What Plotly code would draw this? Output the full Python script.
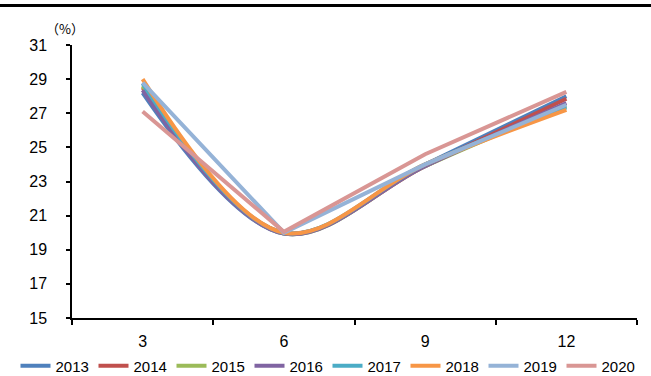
import plotly.graph_objects as go

# Quarter-end months on the category axis
months = ["3", "6", "9", "12"]

# Ratio (%) by quarter for each year
y2013 = [28.2, 19.95, 24.0, 28.0]
y2014 = [28.5, 20.0, 23.9, 27.85]
y2015 = [28.6, 19.95, 23.9, 27.45]
y2016 = [28.35, 19.95, 23.9, 27.6]
y2017 = [28.75, 20.0, 24.0, 27.35]
y2018 = [29.0, 20.0, 24.0, 27.2]
y2019 = [28.8, 20.0, 24.0, 27.5]
y2020 = [27.1, 20.05, 24.6, 28.25]

years = ["2013", "2014", "2015", "2016", "2017", "2018", "2019", "2020"]
series = [y2013, y2014, y2015, y2016, y2017, y2018, y2019, y2020]
colors = ["#4F81BD", "#C0504D", "#9BBB59", "#8064A2",
          "#4BACC6", "#F79646", "#95B3D7", "#D99694"]
shapes = ["spline"] * 6 + ["linear", "linear"]

fig = go.Figure()
for name, vals, col, shp in zip(years, series, colors, shapes):
    fig.add_trace(go.Scatter(
        x=months, y=vals, name=name, mode="lines",
        line=dict(color=col, width=4, shape=shp, smoothing=1.0),
    ))

font_family = "Liberation Sans, Arial, sans-serif"

fig.update_layout(
    width=651, height=376,
    margin=dict(l=72, r=14, t=45, b=58, autoexpand=False),
    paper_bgcolor="white", plot_bgcolor="white",
    font=dict(family=font_family, size=16, color="#000000"),
    showlegend=True,
    legend=dict(
        orientation="h", x=-0.1, xanchor="left", y=-0.176, yanchor="middle",
        font=dict(size=15, family=font_family),
        itemwidth=30, tracegroupgap=0, traceorder="normal",
        entrywidth=33, entrywidthmode="pixels",
    ),
    xaxis=dict(
        type="category", range=[-0.5, 3.5], showgrid=False, zeroline=False,
        showline=True, linecolor="#000000", linewidth=1.5,
        ticks="outside", tickson="boundaries", ticklen=5,
        tickcolor="#000000", tickwidth=1.5,
        tickfont=dict(size=16), ticklabelstandoff=8,
    ),
    yaxis=dict(
        range=[15, 31], dtick=2, tick0=15, showgrid=False, zeroline=False,
        showline=True, linecolor="#000000", linewidth=1.5,
        ticks="outside", ticklen=4, tickcolor="#000000", tickwidth=1.5,
        tickfont=dict(size=16), ticklabelstandoff=16,
    ),
    shapes=[dict(
        type="line", xref="paper", yref="paper",
        x0=-0.13, x1=1.03, y0=1.1447, y1=1.1447,
        line=dict(color="#000000", width=3),
    )],
    annotations=[dict(
        text="（%）", xref="paper", yref="paper",
        x=(65 - 72) / 565, y=(318 - 28) / 273, xanchor="center", yanchor="middle",
        showarrow=False, font=dict(size=13, family="Noto Sans CJK SC"),
    )],
)

fig.write_html("out.html")
